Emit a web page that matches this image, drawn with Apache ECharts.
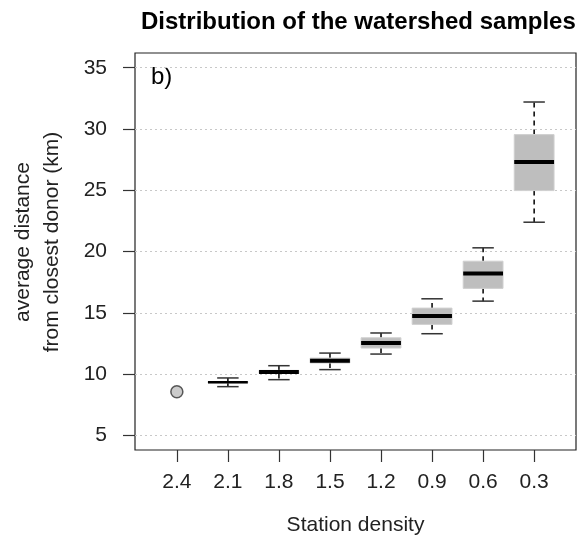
<!DOCTYPE html>
<html><head><meta charset="utf-8">
<script src="https://cdn.jsdelivr.net/npm/echarts@6/dist/echarts.min.js"></script>
<style>html,body{margin:0;padding:0;background:#fff}#c{width:577px;height:537px}</style>
</head><body><div id="c"></div>
<script>
const categories = ['2.4', '2.1', '1.8', '1.5', '1.2', '0.9', '0.6', '0.3'];
const whiskerLow  = [null, 8.97, 9.54, 10.36, 11.63, 13.29, 15.95, 22.39];
const q1          = [null, 9.28, 10.05, 10.90, 12.12, 14.05, 16.99, 24.97];
const median      = [null, 9.33, 10.17, 11.09, 12.53, 14.73, 18.21, 27.31];
const q3          = [null, 9.38, 10.30, 11.30, 12.96, 15.38, 19.21, 29.54];
const whiskerHigh = [null, 9.68, 10.68, 11.71, 13.35, 16.14, 20.30, 32.20];
const singleValue = [8.55, null, null, null, null, null, null, null];
const yTicks = [5, 10, 15, 20, 25, 30, 35];
const xTicks = [1, 2, 3, 4, 5, 6, 7, 8];

const boxData = [];
const pointData = [];
categories.forEach((c, i) => {
  if (median[i] != null) boxData.push([i + 1, whiskerLow[i], q1[i], median[i], q3[i], whiskerHigh[i]]);
  if (singleValue[i] != null) pointData.push([i + 1, singleValue[i]]);
});

const FONT = 'Liberation Sans, Arial, sans-serif';
const chart = echarts.init(document.getElementById('c'), null, {renderer: 'canvas'});
chart.setOption({
  animation: false,
  backgroundColor: '#fff',
  title: {
    text: 'Distribution of the watershed samples',
    left: 136, top: 5,
    textStyle: {fontFamily: FONT, fontSize: 24, fontWeight: 'bold', color: '#000'}
  },
  grid: {left: 135, right: 1, top: 53, bottom: 87, show: true, borderColor: '#222', borderWidth: 1.2, backgroundColor: 'transparent'},
  xAxis: {
    type: 'value', min: 0.18, max: 8.82,
    axisLine: {show: false},
    axisTick: {show: true, customValues: xTicks, length: 12, lineStyle: {color: '#333', width: 1.2}},
    axisLabel: {customValues: xTicks, formatter: v => categories[Math.round(v) - 1], fontFamily: FONT, fontSize: 21, color: '#222', margin: 22},
    splitLine: {show: false}
  },
  yAxis: {
    type: 'value', min: 3.8, max: 36.2,
    axisLine: {show: false},
    axisTick: {show: true, customValues: yTicks, length: 12, lineStyle: {color: '#333', width: 1.2}},
    axisLabel: {customValues: yTicks, fontFamily: FONT, fontSize: 21, color: '#222', margin: 28},
    splitLine: {show: true, lineStyle: {color: '#c8c8c8', width: 1, type: [2, 3]}}
  },
  graphic: [
    {type: 'text', left: 151, top: 65, style: {text: 'b)', font: '24px ' + FONT, fill: '#000'}},
    {type: 'text', x: 37.5, y: 242, rotation: Math.PI / 2,
     style: {text: 'average distance\nfrom closest donor (km)', font: '21px ' + FONT, fill: '#222', align: 'center', verticalAlign: 'middle', lineHeight: 29}},
    {type: 'text', x: 355.5, y: 525,
     style: {text: 'Station density', font: '21px ' + FONT, fill: '#222', align: 'center', verticalAlign: 'middle'}}
  ],
  series: [
    {
      type: 'custom',
      data: boxData,
      encode: {x: 0, y: [1, 2, 3, 4, 5]},
      renderItem: function (params, api) {
        const x = api.value(0);
        const lo = api.coord([x, api.value(1)]);
        const b1 = api.coord([x, api.value(2)]);
        const md = api.coord([x, api.value(3)]);
        const b3 = api.coord([x, api.value(4)]);
        const hi = api.coord([x, api.value(5)]);
        const bw = api.size([0.78, 0])[0];
        const sw = api.size([0.42, 0])[0];
        const cx = md[0];
        const medW = Math.min(4, Math.max(2.5, (b1[1] - b3[1]) * 2));
        const dash = {stroke: '#000', lineWidth: 1.5, lineDash: [5, 4]};
        const staple = {stroke: '#333', lineWidth: 1.5};
        return {type: 'group', children: [
          {type: 'line', shape: {x1: cx, y1: b3[1], x2: cx, y2: hi[1]}, style: dash},
          {type: 'line', shape: {x1: cx, y1: b1[1], x2: cx, y2: lo[1]}, style: dash},
          {type: 'line', shape: {x1: cx - sw / 2, y1: hi[1], x2: cx + sw / 2, y2: hi[1]}, style: staple},
          {type: 'line', shape: {x1: cx - sw / 2, y1: lo[1], x2: cx + sw / 2, y2: lo[1]}, style: staple},
          {type: 'rect', shape: {x: cx - bw / 2, y: b3[1], width: bw, height: b1[1] - b3[1]}, style: {fill: '#bebebe', stroke: '#d0d0d0', lineWidth: 1}},
          {type: 'line', shape: {x1: cx - bw / 2, y1: md[1], x2: cx + bw / 2, y2: md[1]}, style: {stroke: '#000', lineWidth: medW}}
        ]};
      }
    },
    {
      type: 'scatter',
      data: pointData,
      symbol: 'circle', symbolSize: 12,
      itemStyle: {color: '#bebebe', borderColor: '#333', borderWidth: 1.5}
    }
  ]
});
</script>
</body></html>
